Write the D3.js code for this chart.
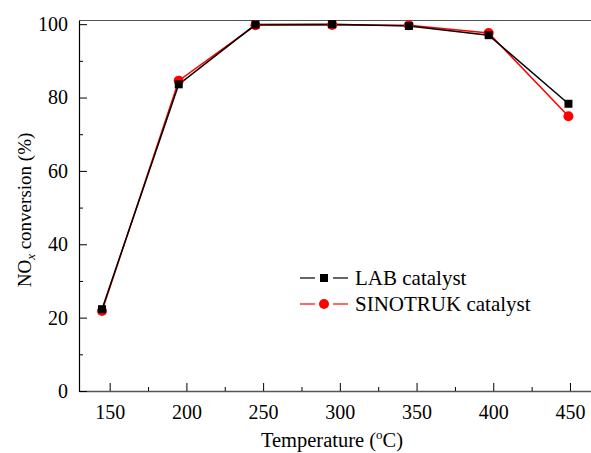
<!DOCTYPE html>
<html>
<head>
<meta charset="utf-8">
<script src="https://d3js.org/d3.v7.min.js"></script>
<style>
body { margin: 0; background: #fff; }
.chart text { font-family: "Liberation Serif", "Times New Roman", serif; fill: #000; }
</style>
</head>
<body>
<div class="chart"></div>
<script>
// temperatures (C) and conversions (%)
var temps = [145, 195, 245, 295, 345, 397, 449];
var labCatalyst = [22.3, 83.6, 99.9, 100.0, 99.5, 97.0, 78.3];
var sinotrukCatalyst = [21.8, 84.6, 99.7, 99.8, 99.7, 97.6, 74.9];
var xTicks = [150, 200, 250, 300, 350, 400, 450];
var yTicks = [0, 20, 40, 60, 80, 100];
var seriesNames = ["LAB catalyst", "SINOTRUK catalyst"];
var seriesColors = ["#000000", "#ff0000"];

var width = 591, height = 453;
var plotLeft = 79, plotRight = 591, plotTop = 20.5, plotBottom = 391;

var svg = d3.select(".chart").append("svg")
    .attr("width", width)
    .attr("height", height);

var x = d3.scaleLinear().domain([130, 463.7]).range([plotLeft, plotRight]);
var y = d3.scaleLinear().domain([0, 101]).range([plotBottom, plotTop]);

// frame
svg.append("line")
    .attr("x1", plotLeft).attr("x2", plotRight)
    .attr("y1", plotTop).attr("y2", plotTop)
    .attr("stroke", "#555").attr("stroke-width", 1.2);

// x axis, ticks point inward
var xAxis = svg.append("g")
    .attr("transform", "translate(0," + plotBottom + ")")
    .call(d3.axisBottom(x).tickValues(xTicks).tickSize(-8).tickPadding(14).tickSizeOuter(0));
xAxis.select(".domain").attr("stroke", "#555").attr("stroke-width", 1.5);
xAxis.selectAll("text").style("font-size", "20px");
svg.append("g")
    .attr("transform", "translate(0," + plotBottom + ")")
    .call(d3.axisBottom(x).tickValues(d3.range(175, 451, 50)).tickSize(-4).tickFormat(""))
    .select(".domain").remove();

var yAxis = svg.append("g")
    .attr("transform", "translate(" + plotLeft + ",0)")
    .call(d3.axisLeft(y).tickValues(yTicks).tickSize(-8).tickPadding(11).tickSizeOuter(0));
yAxis.select(".domain").attr("stroke", "#000").attr("stroke-width", 1.2);
yAxis.selectAll("text").style("font-size", "20px");
svg.append("g")
    .attr("transform", "translate(" + plotLeft + ",0)")
    .call(d3.axisLeft(y).tickValues(d3.range(10, 100, 20)).tickSize(-4).tickFormat(""))
    .select(".domain").remove();

// lines and markers
var line = d3.line()
    .x(function (d, i) { return x(temps[i]); })
    .y(function (d) { return y(d); });

var allSeries = [labCatalyst, sinotrukCatalyst];
// draw red first, then black on top
[1, 0].forEach(function (s) {
    svg.append("path")
        .datum(allSeries[s])
        .attr("d", line)
        .attr("fill", "none")
        .attr("stroke", seriesColors[s])
        .attr("stroke-width", 1.5);
});
svg.selectAll(".circ")
    .data(sinotrukCatalyst)
    .enter().append("circle")
    .attr("cx", function (d, i) { return x(temps[i]); })
    .attr("cy", function (d) { return y(d); })
    .attr("r", 5)
    .attr("fill", seriesColors[1]);
svg.selectAll(".sq")
    .data(labCatalyst)
    .enter().append("rect")
    .attr("x", function (d, i) { return x(temps[i]) - 4; })
    .attr("y", function (d) { return y(d) - 4; })
    .attr("width", 8).attr("height", 8)
    .attr("fill", seriesColors[0]);

// legend
var legend = svg.append("g").attr("transform", "translate(300,278)");
seriesNames.forEach(function (name, i) {
    var g = legend.append("g").attr("transform", "translate(0," + (i * 26) + ")");
    g.append("line").attr("x1", 0).attr("x2", 15).attr("y1", 0).attr("y2", 0)
        .attr("stroke", seriesColors[i]).attr("stroke-width", 1.2);
    g.append("line").attr("x1", 33).attr("x2", 48).attr("y1", 0).attr("y2", 0)
        .attr("stroke", seriesColors[i]).attr("stroke-width", 1.2);
    if (i === 0) {
        g.append("rect").attr("x", 20).attr("y", -4).attr("width", 8).attr("height", 8)
            .attr("fill", seriesColors[i]);
    } else {
        g.append("circle").attr("cx", 24).attr("cy", 0).attr("r", 5)
            .attr("fill", seriesColors[i]);
    }
    g.append("text").attr("x", 55).attr("y", 7)
        .style("font-size", "21px")
        .text(name);
});

// axis titles
var xt = svg.append("text")
    .attr("x", 332)
    .attr("y", 447)
    .attr("text-anchor", "middle")
    .style("font-size", "20.5px");
xt.append("tspan").text("Temperature (");
xt.append("tspan").attr("dy", -8).style("font-size", "13px").text("o");
xt.append("tspan").attr("dy", 8).text("C)");

var yt = svg.append("text")
    .attr("transform", "translate(31,210) rotate(-90)")
    .attr("text-anchor", "middle")
    .style("font-size", "19px");
yt.append("tspan").text("NO");
yt.append("tspan").attr("dy", 4).style("font-size", "13px").style("font-style", "italic").text("x");
yt.append("tspan").attr("dy", -4).text(" conversion (%)");
</script>
</body>
</html>
